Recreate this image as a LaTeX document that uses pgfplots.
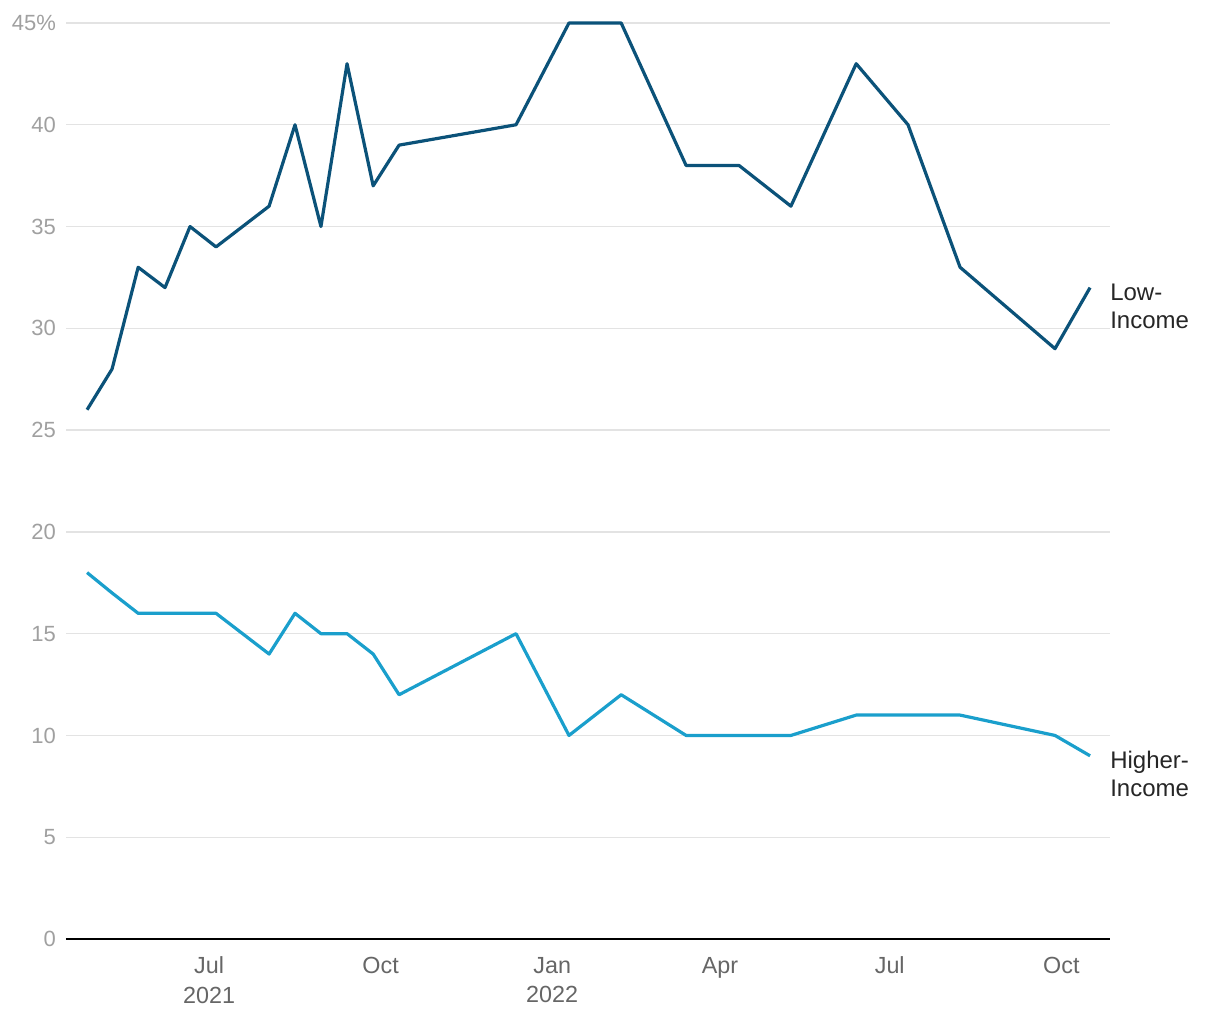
\documentclass[border=0pt]{standalone}
\usepackage{pgfplots}
\pgfplotsset{compat=1.18}
\usepackage{fontspec}
\setmainfont{Liberation Sans}
\definecolor{lowc}{HTML}{0B5279}
\definecolor{highc}{HTML}{1A9FCC}
\definecolor{gridc}{HTML}{E3E3E3}
\definecolor{ylab}{HTML}{A0A0A0}
\definecolor{xlab}{HTML}{666666}
\begin{document}
\begin{tikzpicture}[x=0.75pt,y=0.75pt]
\useasboundingbox (-66,-81) rectangle (1154,939);
\begin{axis}[
  at={(0,0)}, anchor=south west,
  scale only axis, width=783pt, height=687pt,
  xmin=-76.7, xmax=483.1, ymin=0, ymax=45,
  axis x line*=bottom, axis y line*=left,
  x axis line style={line width=1.5pt, black, -},
  y axis line style={draw=none},
  ytick={0,5,...,45},
  yticklabels={0,5,10,15,20,25,30,35,40,45\%},
  ymajorgrids, grid style={gridc, line width=1pt},
  major tick length=0pt,
  xtick={0,92,184,274,365,457},
  xticklabels={Jul\\2021,Oct,Jan\\2022,Apr,Jul,Oct},
  xticklabel style={align=center, text=xlab, font=\fontsize{17.5}{22}\selectfont, anchor=north, yshift=-10pt},
  yticklabel style={text=ylab, font=\fontsize{16.5}{18}\selectfont, anchor=east, xshift=-4pt},
  /pgf/number format/assume math mode=true,
  clip=false,
]
\addplot[lowc, line width=2.4pt, line join=round] coordinates {
(-65.4,26) (-52,28) (-38,33) (-23.6,32) (-10.2,35) (3.75,34) (32.2,36) (46.1,40)
(60,35) (74,43) (88,37) (101.9,39) (164.6,40) (193,45) (221,45) (255.8,38)
(284.2,38) (312,36) (347,43) (374.8,40) (402.7,33) (453.6,29) (472.4,32)};
\addplot[highc, line width=2.4pt, line join=round] coordinates {
(-65.4,18) (-52,17) (-38,16) (-23.6,16) (-10.2,16) (3.75,16) (32.2,14) (46.1,16)
(60,15) (74,15) (88,14) (101.9,12) (164.6,15) (193,10) (221,12) (255.8,10)
(284.2,10) (312,10) (347,11) (374.8,11) (402.7,11) (453.6,10) (472.4,9)};
\node[anchor=west, align=left, font=\fontsize{18}{21}\selectfont, text=black!85, inner sep=0pt] at (axis cs:483.1,31.1) {Low-\\Income};
\node[anchor=west, align=left, font=\fontsize{18}{21}\selectfont, text=black!85, inner sep=0pt] at (axis cs:483.1,8.1) {Higher-\\Income};
\end{axis}
\end{tikzpicture}
\end{document}
